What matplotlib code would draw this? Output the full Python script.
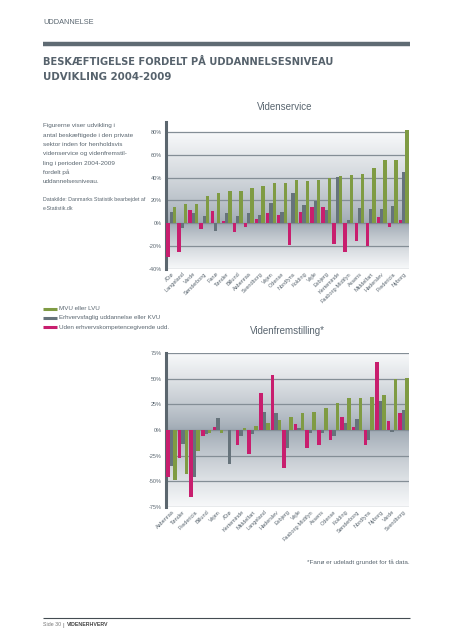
import numpy as np
import matplotlib.pyplot as plt
from matplotlib.lines import Line2D

W, H = 453, 640

# farver
PINK = '#c81e6e'
GREY = '#66737b'
GREEN = '#7f9b43'
TXT = '#5a6670'

serier = ['MVU eller LVU', 'Erhvervsfaglig uddannelse eller KVU',
          'Uden erhvervskompetencegivende udd.']

# Videnservice
service_kommuner = ['Ærø', 'Langeland', 'Varde', 'Sønderborg', 'Fanø', 'Tønder', 'Billund',
                    'Aabenraa', 'Svendborg', 'Vejen', 'Odense', 'Nordfyns', 'Kolding', 'Vejle',
                    'Esbjerg', 'Kerteminde', 'Faaborg-Midtfyn', 'Assens', 'Middelfart',
                    'Haderslev', 'Fredericia', 'Nyborg']
service_uden = [-30, -25, 11.5, -5, 10.5, 2, -8, -3.5, 4, 8.5, 7.5, -19.5, 9.5, 14.5, 14.5,
                -18, -25, -16, -20.5, 5, -3.5, 3]
service_erhverv = [10, -4, 9, 6, -7, 9, 6.5, 9, 7, 18, 10, 26, 16, 19, 11.5, 40.5, 3, 13.5,
                   12, 12, 15, 45]
service_mvu = [14, 17, 17, 23.5, 26, 28, 28, 31, 33, 35.5, 35.5, 37.5, 37, 38, 40, 41.5,
               42.5, 43.5, 48.5, 55.5, 55.5, 82]

# Videnfremstilling (Fanø udeladt)
fremst_kommuner = ['Aabenraa', 'Tønder', 'Fredericia', 'Billund', 'Vejen', 'Ærø', 'Kerteminde',
                   'Middelfart', 'Langeland', 'Haderslev', 'Esbjerg', 'Vejle', 'Faaborg-Midtfyn',
                   'Assens', 'Odense', 'Kolding', 'Sønderborg', 'Nordfyns', 'Nyborg', 'Varde',
                   'Svendborg']
fremst_uden = [-45.5, -27, -66, -6, 2.6, 0, -15, -23, 36.5, 54, -37, 6, -18, -15, -10, 12.4,
               2.6, -15, 66.5, 8.8, 17]
fremst_erhverv = [-35, -14, -45.5, -4, 11.4, -33, -6, -4, 17.5, 16.5, -18, 2.3, -2.6, -3, -5.5,
                  6.8, 10.8, -10, 28.4, -2, 19.6]
fremst_mvu = [-49, -43, -21, -2.5, -3, 0, 1.6, 4, 6.5, 9.8, 12.4, 17, 18, 21.5, 26.7, 31.6,
              31.6, 32.6, 34.6, 49.6, 51]

plt.rcParams['font.family'] = ['Liberation Sans', 'DejaVu Sans']

fig = plt.figure(figsize=(W / 100, H / 100), dpi=100)
renderer = fig.canvas.get_renderer()


def fx(x):
    return x / W


def fy(y):
    return 1 - y / H


def tekst(x, y, s, **kw):
    kw.setdefault('color', TXT)
    return fig.text(fx(x), fy(y), s, va='center', **kw)


def tilpas(t, bredde):
    # skaler skriftstørrelsen så teksten får den ønskede bredde i pixels
    b = t.get_window_extent(renderer).width
    t.set_fontsize(t.get_fontsize() * bredde / b)


def hline(x0, x1, y, lw, color):
    fig.add_artist(Line2D([fx(x0), fx(x1)], [fy(y), fy(y)], transform=fig.transFigure,
                          color=color, lw=lw, solid_capstyle='butt'))


def diagram(top_px, bottom_px, kommuner, uden, erhv, mvu, ylo, yhi, ytop, step):
    ax = fig.add_axes([fx(166), fy(bottom_px), fx(409) - fx(166), (bottom_px - top_px) / H])
    x = np.arange(len(kommuner))
    w = 0.3
    ax.bar(x - w, uden, w, color=PINK, zorder=3)
    ax.bar(x, erhv, w, color=GREY, zorder=3)
    ax.bar(x + w, mvu, w, color=GREEN, zorder=3)
    xlo, xhi = -0.47, len(kommuner) - 0.53
    # baggrund: graa ved 0, lys mod top og bund
    yy = np.linspace(ylo, yhi, 200)
    t = np.where(yy >= 0, yy / yhi, yy / ylo) ** 0.8
    mid = np.array([0.62, 0.66, 0.70])
    lys = np.array([0.97, 0.975, 0.98])
    rgb = mid[None, :] * (1 - t[:, None]) + lys[None, :] * t[:, None]
    ax.imshow(rgb[:, None, :], extent=[xlo, xhi, ylo, yhi], aspect='auto', origin='lower', zorder=0)
    ticks = np.arange(ylo, yhi + 1, step)
    for v in ticks:
        ax.axhline(v, color='#848e96', lw=0.9, zorder=1)
    ax.set_xlim(xlo, xhi)
    ax.set_ylim(ylo, ytop)
    ax.set_yticks(ticks)
    ax.set_yticklabels([f'{v}%' for v in ticks])
    ax.set_xticks(x)
    ax.set_xticklabels(kommuner, rotation=45, ha='right', va='top', rotation_mode='anchor')
    ax.tick_params(length=0, labelsize=4, labelcolor=TXT, pad=3)
    ax.tick_params(axis='x', pad=2)
    for s in ['top', 'right', 'bottom']:
        ax.spines[s].set_visible(False)
    ax.spines['left'].set_color('#5b666e')
    ax.spines['left'].set_linewidth(2.2)
    ax.patch.set_alpha(0)
    return ax


# sidehoved
tekst(43, 22, 'UDDANNELSE', fontsize=5.3)
hline(43, 410, 44.3, 3.2, '#5f6b73')
t1 = tekst(43, 61.5, 'BESKÆFTIGELSE FORDELT PÅ UDDANNELSESNIVEAU', fontsize=9.5,
           fontweight='bold', color='#56626c', family=['DejaVu Sans'])
t2 = tekst(43, 76.5, 'UDVIKLING 2004-2009', fontsize=9.5, fontweight='bold',
           color='#56626c', family=['DejaVu Sans'])
tilpas(t1, 292)
tilpas(t2, 130)

# brødtekst
linjer = ['Figurerne viser udvikling i', 'antal beskæftigede i den private',
          'sektor inden for henholdsvis', 'videnservice og videnfremstil-',
          'ling i perioden 2004-2009', 'fordelt på', 'uddannelsesniveau.']
for i, s in enumerate(linjer):
    tekst(43, 126 + i * 9.3, s, fontsize=4.6)
tekst(43, 199.5, 'Datakilde: Danmarks Statistik bearbejdet af', fontsize=3.8)
tekst(43, 209, 'e-Statistik.dk', fontsize=3.8)

# diagrammer
tekst(285, 107, 'Videnservice', fontsize=7, ha='center')
diagram(121.7, 268.7, service_kommuner, service_uden, service_erhverv, service_mvu,
        -40, 80, 89, 20)

tekst(287, 331, 'Videnfremstilling*', fontsize=7, ha='center')
diagram(353.3, 506.7, fremst_kommuner, fremst_uden, fremst_erhverv, fremst_mvu,
        -75, 75, 75, 25)

# forklaring
for i, (navn, c) in enumerate(zip(serier, [GREEN, GREY, PINK])):
    y = 309 + i * 9
    hline(43, 57, y, 2.2, c)
    tekst(59, y, navn, fontsize=4.5)

tekst(410, 562, '*Fanø er udeladt grundet for få data.', fontsize=4.6, ha='right')

# sidefod
hline(43, 410, 618.3, 0.8, '#444c52')
tekst(43, 625, 'Side 30', fontsize=3.8, color='#777')
tekst(63, 625, '|', fontsize=4.5, color='#777')
tekst(67, 625, 'VIDENERHVERV', fontsize=3.8, fontweight='bold', color='#444')

fig.savefig('out.png', dpi=100)
